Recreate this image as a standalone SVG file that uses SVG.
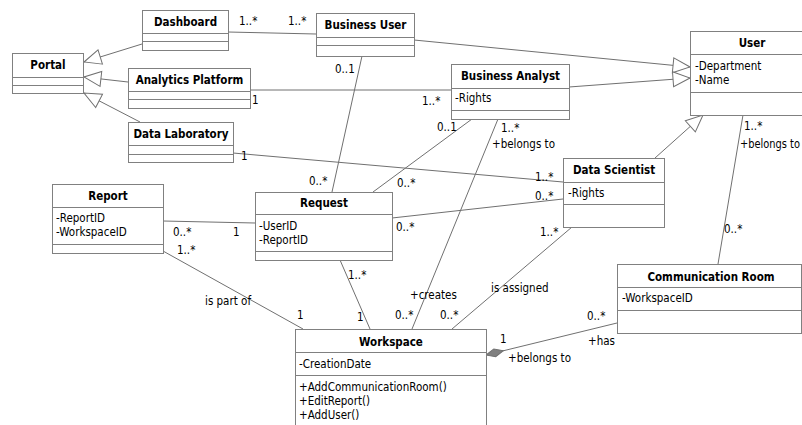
<svg xmlns="http://www.w3.org/2000/svg" width="802" height="425" viewBox="0 0 802 425">
<style>
text{font-family:"DejaVu Sans Condensed","DejaVu Sans",sans-serif;font-size:11.5px;fill:#000}
.t{font-weight:bold;text-anchor:middle}
.box rect{fill:#fff;stroke:#808080;stroke-width:1}
.box line{stroke:#808080;stroke-width:1}
#connectors line{stroke:#707070;stroke-width:1;fill:none}
.gen{marker-end:url(#tri)}
.comp{marker-end:url(#dia)}
</style>
<defs>
<marker id="tri" viewBox="-1 -10 21 20" refX="17" refY="0" markerWidth="21" markerHeight="20" markerUnits="userSpaceOnUse" orient="auto">
<path d="M0,-7.5 L17,0 L0,7.5 Z" fill="#fff" stroke="#707070" stroke-width="1"/>
</marker>
<marker id="dia" viewBox="-1 -6 21 12" refX="18" refY="0" markerWidth="21" markerHeight="12" markerUnits="userSpaceOnUse" orient="auto">
<path d="M0,0 L9,-4 L18,0 L9,4 Z" fill="#808080" stroke="#707070" stroke-width="1"/>
</marker>
</defs>

<g id="connectors">
<line class="gen" x1="142" y1="44" x2="84" y2="62"/>
<line class="gen" x1="128" y1="82" x2="84" y2="77"/>
<line class="gen" x1="140" y1="122" x2="84" y2="93"/>
<line x1="228" y1="32" x2="316" y2="34"/>
<line class="gen" x1="414" y1="40" x2="690" y2="67"/>
<line class="gen" x1="569" y1="87" x2="690" y2="78"/>
<line class="gen" x1="655" y1="158" x2="703" y2="115"/>
<line x1="250" y1="90" x2="451" y2="90"/>
<line x1="233" y1="153" x2="563" y2="182"/>
<line x1="362" y1="56" x2="332" y2="192"/>
<line x1="472" y1="119" x2="373" y2="192"/>
<line x1="498" y1="119" x2="412" y2="329"/>
<line x1="392" y1="218" x2="563" y2="199"/>
<line x1="163" y1="221" x2="255" y2="223"/>
<line x1="163" y1="251" x2="303" y2="329"/>
<line x1="340" y1="260" x2="370" y2="329"/>
<line x1="572" y1="227" x2="452" y2="329"/>
<line x1="743" y1="115" x2="718" y2="264"/>
<line class="comp" x1="617" y1="323" x2="486" y2="355"/>
</g>

<g id="labels">
<text x="239" y="25">1..*</text>
<text x="288" y="25">1..*</text>
<text x="252" y="104">1</text>
<text x="422" y="105">1..*</text>
<text x="241" y="160">1</text>
<text x="335" y="73">0..1</text>
<text x="437" y="131">0..1</text>
<text x="501" y="132">1..*</text>
<text x="492" y="148">+belongs to</text>
<text x="309" y="185">0..*</text>
<text x="397" y="187">0..*</text>
<text x="535" y="181">1..*</text>
<text x="535" y="200">0..*</text>
<text x="396" y="231">0..*</text>
<text x="540" y="236">1..*</text>
<text x="348" y="279">1..*</text>
<text x="410" y="299">+creates</text>
<text x="491" y="292">is assigned</text>
<text x="395" y="319">0..*</text>
<text x="440" y="319">0..*</text>
<text x="357" y="321">1</text>
<text x="297" y="319">1</text>
<text x="205" y="305">is part of</text>
<text x="173" y="236">0..*</text>
<text x="233" y="236">1</text>
<text x="177" y="254">1..*</text>
<text x="744" y="130">1..*</text>
<text x="740" y="148" textLength="60" lengthAdjust="spacingAndGlyphs">+belongs to</text>
<text x="724" y="233">0..*</text>
<text x="587" y="320">0..*</text>
<text x="588" y="345">+has</text>
<text x="500" y="343">1</text>
<text x="508" y="362">+belongs to</text>
</g>

<g id="portal" class="box">
<rect x="12.5" y="53.5" width="71" height="40"/>
<line x1="12.5" y1="77.5" x2="83.5" y2="77.5"/>
<line x1="12.5" y1="85.5" x2="83.5" y2="85.5"/>
<text class="t" x="48" y="69">Portal</text>
</g>

<g id="dashboard" class="box">
<rect x="142.5" y="10.5" width="86" height="40"/>
<line x1="142.5" y1="33.5" x2="228.5" y2="33.5"/>
<line x1="142.5" y1="41.5" x2="228.5" y2="41.5"/>
<text class="t" x="185.5" y="26">Dashboard</text>
</g>

<g id="analytics-platform" class="box">
<rect x="128.5" y="68.5" width="122" height="40"/>
<line x1="128.5" y1="91.5" x2="250.5" y2="91.5"/>
<line x1="128.5" y1="99.5" x2="250.5" y2="99.5"/>
<text class="t" x="189.5" y="84">Analytics Platform</text>
</g>

<g id="data-laboratory" class="box">
<rect x="128.5" y="122.5" width="105" height="40"/>
<line x1="128.5" y1="145.5" x2="233.5" y2="145.5"/>
<line x1="128.5" y1="154.5" x2="233.5" y2="154.5"/>
<text class="t" x="181" y="138">Data Laboratory</text>
</g>

<g id="business-user" class="box">
<rect x="316.5" y="13.5" width="98" height="43"/>
<line x1="316.5" y1="37.5" x2="414.5" y2="37.5"/>
<line x1="316.5" y1="45.5" x2="414.5" y2="45.5"/>
<text class="t" x="365.5" y="29">Business User</text>
</g>

<g id="business-analyst" class="box">
<rect x="451.5" y="64.5" width="118" height="55"/>
<line x1="451.5" y1="88.5" x2="569.5" y2="88.5"/>
<line x1="451.5" y1="110.5" x2="569.5" y2="110.5"/>
<text class="t" x="510.5" y="80">Business Analyst</text>
<text x="455" y="102">-Rights</text>
</g>

<g id="user" class="box">
<rect x="690.5" y="31.5" width="124" height="84"/>
<line x1="690.5" y1="54.5" x2="814.5" y2="54.5"/>
<line x1="690.5" y1="92.5" x2="814.5" y2="92.5"/>
<text class="t" x="752" y="47">User</text>
<text x="695" y="70">-Department</text>
<text x="695" y="84">-Name</text>
</g>

<g id="data-scientist" class="box">
<rect x="563.5" y="158.5" width="101" height="69"/>
<line x1="563.5" y1="182.5" x2="664.5" y2="182.5"/>
<line x1="563.5" y1="204.5" x2="664.5" y2="204.5"/>
<text class="t" x="614" y="174">Data Scientist</text>
<text x="568" y="197">-Rights</text>
</g>

<g id="communication-room" class="box">
<rect x="617.5" y="264.5" width="184" height="69"/>
<line x1="617.5" y1="287.5" x2="801.5" y2="287.5"/>
<line x1="617.5" y1="310.5" x2="801.5" y2="310.5"/>
<text class="t" x="711" y="281">Communication Room</text>
<text x="622" y="302">-WorkspaceID</text>
</g>

<g id="report" class="box">
<rect x="52.5" y="184.5" width="111" height="69"/>
<line x1="52.5" y1="207.5" x2="163.5" y2="207.5"/>
<line x1="52.5" y1="244.5" x2="163.5" y2="244.5"/>
<text class="t" x="108" y="200">Report</text>
<text x="56" y="222">-ReportID</text>
<text x="56" y="236">-WorkspaceID</text>
</g>

<g id="request" class="box">
<rect x="255.5" y="192.5" width="137" height="68"/>
<line x1="255.5" y1="214.5" x2="392.5" y2="214.5"/>
<line x1="255.5" y1="251.5" x2="392.5" y2="251.5"/>
<text class="t" x="324" y="207">Request</text>
<text x="259" y="230">-UserID</text>
<text x="259" y="244">-ReportID</text>
</g>

<g id="workspace" class="box">
<rect x="295.5" y="329.5" width="191" height="110"/>
<line x1="295.5" y1="352.5" x2="486.5" y2="352.5"/>
<line x1="295.5" y1="375.5" x2="486.5" y2="375.5"/>
<text class="t" x="391" y="346">Workspace</text>
<text x="299" y="368">-CreationDate</text>
<text x="299" y="391">+AddCommunicationRoom()</text>
<text x="299" y="405">+EditReport()</text>
<text x="299" y="419">+AddUser()</text>
</g>
</svg>
